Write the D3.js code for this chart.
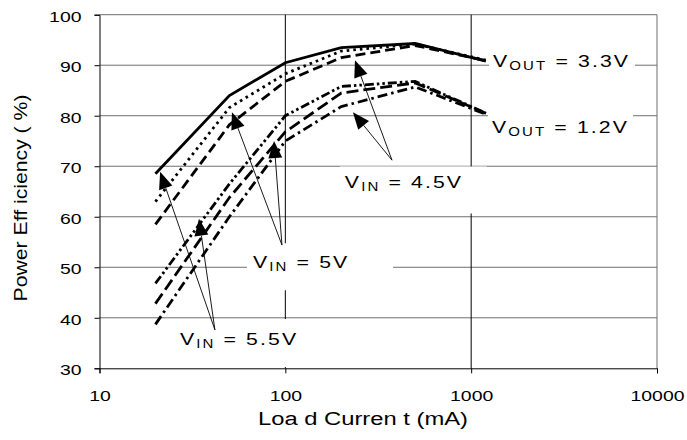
<!DOCTYPE html>
<html lang="en">
<head>
<meta charset="utf-8">
<title>Power Efficiency vs Load Current</title>
<script src="https://d3js.org/d3.v7.min.js"></script>
<style>
  body {margin:0; background:#fff;}
  text {font-family:"Liberation Sans", Arial, sans-serif; fill:#000;}
</style>
</head>
<body>
<svg width="687" height="440"></svg>
<script>
// load current (mA) where the curves were sampled
const loadPoints = [20, 50, 100, 200, 500, 1200];
// efficiency (%), VOUT = 3.3V
const eff33Vin55 = [68.5, 84.0, 90.5, 93.5, 94.3, 90.8];
const eff33Vin5  = [63.0, 81.6, 88.3, 92.8, 94.2, 91.0];
const eff33Vin45 = [58.5, 78.2, 86.8, 91.5, 93.9, 90.9];
// efficiency (%), VOUT = 1.2V
const eff12Vin55 = [46.8, 66.5, 80.0, 85.8, 86.8, 80.5];
const eff12Vin5  = [42.8, 63.8, 76.8, 84.5, 86.5, 80.5];
const eff12Vin45 = [38.7, 60.0, 75.0, 81.8, 85.7, 80.3];

const xTicks = [10, 100, 1000, 10000];
const yTicks = [30, 40, 50, 60, 70, 80, 90, 100];

// label anchors in data units (mA, %)
const labelNames = [["V", "OUT", " = 3.3V"], ["V", "OUT", " = 1.2V"], ["V", "IN", " = 4.5V"], ["V", "IN", " = 5V"], ["V", "IN", " = 5.5V"]];
const labelLoads = [1311, 1294, 209, 67, 27.1];
const labelEffs  = [89.7, 76.5, 65.6, 49.8, 34.6];

// arrows: base (near the label) -> tip (on the curve)
const arrowBases = [[375, 71.2], [375, 71.2], [95.9, 54.4], [95.9, 54.4], [41.8, 37.6], [41.8, 37.6]];
const arrowTips  = [[237, 91.0], [231, 80.7], [51.6, 80.7], [86.9, 75.0], [21.2, 68.9], [34.3, 59.6]];

const svg = d3.select("svg");
const x = d3.scaleLog().domain([10, 10000]).range([99.5, 657]);
const y = d3.scaleLinear().domain([30, 100]).range([368.3, 14.7]);

// grid
svg.append("g").selectAll("line").data(yTicks.slice(1)).join("line")
  .attr("x1", x(10)).attr("x2", x(10000))
  .attr("y1", d => y(d)).attr("y2", d => y(d))
  .attr("stroke", "#6f6f6f").attr("stroke-width", 1);
svg.append("line").attr("x1", x(10000)).attr("x2", x(10000)).attr("y1", y(100)).attr("y2", y(30))
  .attr("stroke", "#6f6f6f");
svg.append("g").selectAll("line").data([100, 1000]).join("line")
  .attr("x1", d => x(d)).attr("x2", d => x(d))
  .attr("y1", y(100)).attr("y2", y(30))
  .attr("stroke", "#000").attr("stroke-width", 1);

// axes
const yAxis = svg.append("g").attr("transform", "translate(" + x(10) + ",0)")
  .call(d3.axisLeft(y).tickValues(yTicks).tickSize(5).tickFormat(d3.format("d")));
const xAxis = svg.append("g").attr("transform", "translate(0," + y(30) + ")")
  .call(d3.axisBottom(x).tickValues(xTicks).tickSize(5).tickFormat(d3.format("d")));
[xAxis, yAxis].forEach(a => {
  a.select(".domain").attr("stroke", "#000");
  a.selectAll(".tick line").attr("stroke", "#000");
  a.selectAll(".tick text").attr("font-size", 14.5).attr("font-family", '"Liberation Sans", Arial, sans-serif')
    .attr("lengthAdjust", "spacingAndGlyphs")
    .attr("textLength", d => String(d).length * 10.8);
});
yAxis.selectAll(".tick text").attr("x", -18).attr("dy", "0.45em");
xAxis.selectAll(".tick text").attr("y", 22).attr("dy", "0.71em");

// white boxes behind labels (px offsets from the label anchor)
const boxes = [[-4, -20, 146, 30], [-4, -25, 145, 33], [-5, -22, 147, 47], [-6, -25, 146, 47], [-5, -26, 125, 48]];
svg.append("g").selectAll("rect").data(boxes).join("rect")
  .attr("x", (b, i) => x(labelLoads[i]) + b[0])
  .attr("y", (b, i) => y(labelEffs[i]) + b[1])
  .attr("width", b => b[2]).attr("height", b => b[3])
  .attr("fill", "#fff");

// curves
const series = [
  {v: eff33Vin55, dash: null},
  {v: eff33Vin5, dash: "2.6,4"},
  {v: eff33Vin45, dash: "10,5"},
  {v: eff12Vin55, dash: "9,3,2.5,3,2.5,3"},
  {v: eff12Vin5, dash: "12,5"},
  {v: eff12Vin45, dash: "10,4,2.5,4"}
];
const line = d3.line().x(d => x(d[0])).y(d => y(d[1]));
svg.append("g").selectAll("path").data(series).join("path")
  .attr("d", s => line(loadPoints.map((l, i) => [l, s.v[i]])))
  .attr("fill", "none").attr("stroke", "#000").attr("stroke-width", 2.8)
  .attr("stroke-dasharray", s => s.dash);

// arrows
const arrows = svg.append("g");
arrowTips.forEach((t, i) => {
  const b = arrowBases[i];
  const x0 = x(b[0]), y0 = y(b[1]), x1 = x(t[0]), y1 = y(t[1]);
  const ang = Math.atan2(y1 - y0, x1 - x0);
  const len = 17, hw = 7;
  const bx = x1 - len * Math.cos(ang), by = y1 - len * Math.sin(ang);
  arrows.append("line").attr("x1", x0).attr("y1", y0).attr("x2", bx).attr("y2", by)
    .attr("stroke", "#000").attr("stroke-width", 0.9);
  arrows.append("path")
    .attr("d", "M" + x1 + "," + y1 + "L" + (bx + hw * Math.sin(ang)) + "," + (by - hw * Math.cos(ang)) +
      "L" + (bx - hw * Math.sin(ang)) + "," + (by + hw * Math.cos(ang)) + "Z")
    .attr("fill", "#000");
});

// labels
labelNames.forEach((parts, i) => {
  const g = svg.append("g")
    .attr("transform", "translate(" + x(labelLoads[i]) + "," + y(labelEffs[i]) + ") scale(1.25,1)");
  const t = g.append("text").attr("font-size", 17).attr("letter-spacing", 1.7);
  t.append("tspan").text(parts[0]);
  t.append("tspan").attr("font-size", 12).attr("dy", 3).text(parts[1]);
  t.append("tspan").attr("dy", -3).style("white-space", "pre").text(parts[2]);
});

// axis titles
svg.append("text").attr("x", 363).attr("y", 425).attr("text-anchor", "middle")
  .attr("font-size", 18).attr("textLength", 210).attr("lengthAdjust", "spacingAndGlyphs")
  .text("Loa d Curren t (mA)");
svg.append("text").attr("transform", "translate(27,198) rotate(-90)").attr("text-anchor", "middle")
  .attr("font-size", 18).attr("textLength", 207).attr("lengthAdjust", "spacingAndGlyphs")
  .text("Power Eff iciency ( %)");
</script>
</body>
</html>
